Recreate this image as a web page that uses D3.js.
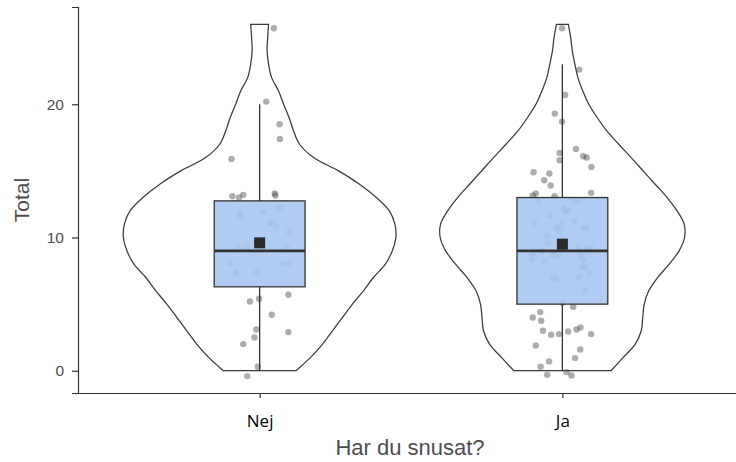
<!DOCTYPE html>
<html>
<head>
<meta charset="utf-8">
<script src="https://cdn.jsdelivr.net/npm/d3@7"></script>
<style>
    body { margin: 0; background: #fff; }
</style>
</head>
<body>
<script>
// #region DATA
var groups = ["Nej", "Ja"];
var yTicks = [0, 10, 20];

// violin outline: relative density at Total = 0, 1, ... 26
var densityLevels = d3.range(0, 27);
var nejDensity = [0.267, 0.374, 0.462, 0.535, 0.608, 0.681, 0.762, 0.835, 0.923, 0.974, 1.0, 0.993, 0.952,
    0.857, 0.733, 0.579, 0.396, 0.293, 0.249, 0.216, 0.176, 0.139, 0.088, 0.066, 0.055, 0.059, 0.066];
var jaDensity = [0.357, 0.447, 0.535, 0.579, 0.590, 0.601, 0.634, 0.700, 0.784, 0.857, 0.897, 0.894, 0.842,
    0.769, 0.681, 0.593, 0.505, 0.414, 0.326, 0.256, 0.194, 0.150, 0.114, 0.092, 0.073, 0.061, 0.044];

// box stats: [low whisker, q1, median, q3, high whisker]
var nejBox = [0, 6.3, 9, 12.75, 20];
var jaBox = [0, 5.0, 9, 13, 23];
var means = [9.6, 9.5];

// jittered points: Total and horizontal jitter (share of the category step)
var nejTotal = [25.7, 20.2, 18.5, 17.4, 15.9, 13.1, 13.0, 13.2, 13.3, 13.15, 11.9, 11.6, 11.9, 12.2, 11.1, 11.1,
    10.8, 10.4, 9.2, 9.3, 9.3, 8.1, 7.4, 7.25, 7.4, 8.0, 8.1, 5.2, 5.4, 5.7, 4.2, 3.1, 2.5, 2.9, 2.0, 0.3, -0.4];
var nejJitter = [0.047, 0.022, 0.066, 0.067, -0.093, -0.090, -0.068, -0.054, 0.050, 0.052, -0.065, -0.064, 0.012,
    0.066, 0.033, 0.042, 0.054, 0.097, -0.068, -0.043, 0.089, -0.098, -0.079, -0.078, -0.010, 0.078, 0.099,
    -0.032, -0.002, 0.095, 0.040, -0.011, -0.017, 0.095, -0.054, -0.006, -0.041];

var jaTotal = [25.7, 22.6, 20.7, 19.3, 18.7, 16.65, 16.35, 16.1, 16.0, 15.8, 15.3, 14.9, 14.8, 14.3, 13.9, 13.3,
    13.15, 13.1, 13.35, 12.75, 12.7, 12.75, 12.2, 12.0, 12.0, 11.65, 11.1, 11.1, 11.25, 10.75, 10.6, 10.75, 10.7,
    10.1, 9.6, 9.0, 9.2, 9.2, 9.2, 8.65, 8.3, 8.2, 8.7, 8.6, 8.6, 8.3, 7.8, 7.75, 7.3, 7.0, 6.9, 7.0, 6.0,
    5.1, 4.8, 4.4, 4.0, 3.75, 3.0, 2.7, 2.75, 2.95, 3.1, 3.25, 2.75, 1.9, 1.6, 0.7, 0.95, 0.3, -0.3, -0.1, -0.35];
var jaJitter = [-0.001, 0.056, 0.009, -0.025, -0.001, 0.045, -0.009, 0.069, 0.080, -0.009, 0.096, -0.095, -0.043,
    -0.060, -0.039, -0.088, -0.098, -0.026, 0.095, -0.078, 0.040, 0.057, 0.004, 0.010, 0.020, -0.041, -0.092, 0,
    0.040, -0.020, -0.008, 0.070, 0.083, -0.049, -0.047, -0.066, 0.050, 0.083, 0.095, -0.098, -0.100, -0.058,
    -0.032, -0.016, 0.059, 0.068, 0.067, 0.077, 0.088, -0.031, -0.020, 0.053, 0.075,
    0.001, 0.036, -0.073, -0.098, -0.070, -0.064, -0.037, -0.011, 0.019, 0.047, 0.060, 0.095, -0.088, 0.059,
    -0.044, 0.042, -0.072, -0.050, 0.014, 0.030];
// #endregion

// #region SETUP
var width = 736, height = 462;
var margin = {top: 7, right: -8, bottom: 69, left: 78};

var svg = d3.select("body")
    .append("svg")
    .attr("width", width)
    .attr("height", height);

var x = d3.scalePoint()
    .domain(groups)
    .range([margin.left, width - margin.right])
    .padding(0.6);

var y = d3.scaleLinear()
    .domain([-1.67, 27.3])
    .range([height - margin.bottom, margin.top]);

var wScale = d3.scaleLinear()
    .domain([0, 1])
    .range([0, 0.45 * x.step()]);

var series = [
    {name: "Nej", density: nejDensity, box: nejBox, mean: means[0], total: nejTotal, jitter: nejJitter},
    {name: "Ja", density: jaDensity, box: jaBox, mean: means[1], total: jaTotal, jitter: jaJitter}
];
// #endregion

// #region VIOLINS
var violin = svg.append("g").attr("id", "violins");

series.forEach(function(s) {
    var cx = x(s.name);
    var area = d3.area()
        .x0((d, i) => cx - wScale(s.density[i]))
        .x1((d, i) => cx + wScale(s.density[i]))
        .y(d => y(d))
        .curve(d3.curveCatmullRom);

    violin.append("path")
        .attr("d", area(densityLevels))
        .attr("fill", "white")
        .attr("stroke", "#3a3a3a")
        .attr("stroke-width", 1.25);
});
// #endregion

// #region POINTS
var pts = svg.append("g").attr("id", "points");

series.forEach(function(s) {
    pts.selectAll(null)
        .data(s.total)
        .enter()
        .append("circle")
            .attr("cx", (d, i) => x(s.name) + s.jitter[i] * x.step())
            .attr("cy", d => y(d))
            .attr("r", 3.2)
            .attr("fill", "#4a4a4a")
            .attr("fill-opacity", 0.45);
});
// #endregion

// #region BOXPLOTS
var boxW = 0.3 * x.step();
var boxes = svg.append("g").attr("id", "boxes");

series.forEach(function(s) {
    var cx = x(s.name);
    var b = s.box;

    // whiskers
    boxes.append("line")
        .attr("x1", cx).attr("x2", cx)
        .attr("y1", y(b[3])).attr("y2", y(b[4]))
        .attr("stroke", "#333").attr("stroke-width", 1.3);
    boxes.append("line")
        .attr("x1", cx).attr("x2", cx)
        .attr("y1", y(b[1])).attr("y2", y(b[0]))
        .attr("stroke", "#333").attr("stroke-width", 1.3);

    boxes.append("rect")
        .attr("x", cx - boxW / 2)
        .attr("y", y(b[3]))
        .attr("width", boxW)
        .attr("height", y(b[1]) - y(b[3]))
        .attr("fill", "#a9c6f1")
        .attr("fill-opacity", 0.9)
        .attr("stroke", "#333")
        .attr("stroke-width", 1.3);

    // median
    boxes.append("line")
        .attr("x1", cx - boxW / 2).attr("x2", cx + boxW / 2)
        .attr("y1", y(b[2])).attr("y2", y(b[2]))
        .attr("stroke", "#333").attr("stroke-width", 2.6);

    // mean square
    boxes.append("rect")
        .attr("x", cx - 5.5)
        .attr("y", y(s.mean) - 5.5)
        .attr("width", 11)
        .attr("height", 11)
        .attr("fill", "#2b2b2b");
});
// #endregion

// #region AXES
var axisColor = "#333";

var yAxis = svg.append("g")
    .attr("transform", "translate(" + margin.left + ",0)")
    .call(d3.axisLeft(y).tickValues(yTicks).tickSize(6).tickPadding(8));
yAxis.select(".domain").attr("stroke", axisColor).attr("stroke-width", 1.2);
yAxis.selectAll(".tick line").attr("stroke", axisColor).attr("stroke-width", 1.2);
yAxis.selectAll(".tick text")
    .attr("fill", "#4d4d4d")
    .style("font-family", "'Liberation Sans', Arial, sans-serif")
    .style("font-size", "15.5px");

var xAxis = svg.append("g")
    .attr("transform", "translate(0," + (height - margin.bottom) + ")")
    .call(d3.axisBottom(x).tickSize(5).tickSizeOuter(0).tickPadding(17));
xAxis.select(".domain").attr("stroke", axisColor).attr("stroke-width", 1.2);
xAxis.selectAll(".tick line").attr("stroke", axisColor).attr("stroke-width", 1.2);
xAxis.selectAll(".tick text")
    .attr("fill", "black")
    .style("font-family", "'Open Sans', sans-serif")
    .style("font-size", "17px");

// axis titles
svg.append("text")
    .attr("x", 410)
    .attr("y", 455)
    .attr("text-anchor", "middle")
    .attr("fill", "#4d4d4d")
    .style("font-family", "'Liberation Sans', Arial, sans-serif")
    .style("font-size", "22px")
    .text("Har du snusat?");

svg.append("text")
    .attr("transform", "translate(29," + ((margin.top + height - margin.bottom) / 2) + ") rotate(-90)")
    .attr("text-anchor", "middle")
    .attr("fill", "#4d4d4d")
    .style("font-family", "'Liberation Sans', Arial, sans-serif")
    .style("font-size", "21px")
    .text("Total");
// #endregion
</script>
</body>
</html>
